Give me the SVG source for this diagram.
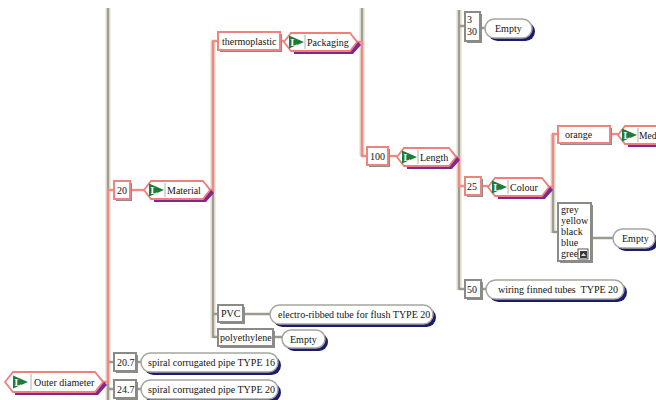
<svg xmlns="http://www.w3.org/2000/svg" xmlns:xlink="http://www.w3.org/1999/xlink" width="656" height="400" viewBox="0 0 656 400">
<defs>
<style>
text{font-family:"Liberation Serif","DejaVu Serif",serif;font-size:10px;fill:#141414}
.bar{stroke:#dcd9ca;stroke-width:5;fill:none}
.barc{stroke:#8f8d85;stroke-width:1.6;fill:none}
.red{stroke:#f08a84;stroke-width:2.4;fill:none}
.gl{stroke:#9c9a90;stroke-width:2.6;fill:none}
.hex{fill:#fff;stroke:#ef7f7c;stroke-width:1.8}
.hexs{fill:#7e2a8c}
.rbox{fill:#fff;stroke:#ee8480;stroke-width:2}
.gbox{fill:#fff;stroke:#8a8a86;stroke-width:2}
.sh{fill:#8d8d88}
.pill{fill:#fff;stroke:#a6a6a0;stroke-width:1.5}
.pills{fill:#1c1c6e}
.sep{stroke:#b0b0b0;stroke-width:1}
.ic{fill:#1c7a3a}
.icl{fill:#ffffff;font-size:10px;font-weight:bold}
</style>
<g id="icon"><polygon class="ic" points="0,0 15,6.5 0,13"/><text class="icl" x="1.5" y="10.5">L</text></g>
</defs>
<rect width="656" height="400" fill="#fff"/>
<g id="connectors">
<path class="bar" d="M108,8V400M213,41V338M362,8V156M459,10V290M553,134V233"/>
<path class="barc" d="M108,8V400M213,41V338M362,8V156M459,10V290M553,134V233"/>
<path class="gl" d="M108,362H114M108,389H114M213,314H218M213,337H218M459,26H465M459,289H465M553,232H558"/>
<path class="gl" d="M136,362H141M136,389H141M243,314H270M272,337H282M480,28H485M591,238H613M481,289H486"/>
<path class="red" d="M103,382H108V190H114"/>
<path class="red" d="M130,190H144"/>
<path class="red" d="M210,190H213V41H218"/>
<path class="red" d="M280,41H284"/>
<path class="red" d="M357,42H362V156H367"/>
<path class="red" d="M388,156H397"/>
<path class="red" d="M456,157H459V186H465"/>
<path class="red" d="M481,186H488"/>
<path class="red" d="M549,187H553V134H558"/>
<path class="red" d="M610,134H618"/>
</g>
<g id="outer-diameter">
<polygon class="hexs" points="15,375 98,375 107,385 98,395 15,395"/>
<polygon class="hex" points="5,382 13,372 95,372 103,382 95,392 13,392"/>
<use xlink:href="#icon" x="13" y="375.5"/><line class="sep" x1="31" y1="374" x2="31" y2="390"/>
<text x="34" y="386">Outer diameter</text>
</g>
<g id="n20-7"><rect class="sh" x="116" y="355" width="22" height="18"/><rect class="gbox" x="114" y="353" width="22" height="18"/><text x="117" y="366">20.7</text></g>
<g id="spiral16"><rect class="pills" x="144" y="356" width="137" height="19" rx="9.5"/><rect class="pill" x="141" y="353" width="137" height="19" rx="9.5"/><text x="148" y="366">spiral corrugated pipe TYPE 16</text></g>
<g id="n24-7"><rect class="sh" x="116" y="382" width="22" height="18"/><rect class="gbox" x="114" y="380" width="22" height="18"/><text x="117" y="393">24.7</text></g>
<g id="spiral20"><rect class="pills" x="144" y="383" width="137" height="19" rx="9.5"/><rect class="pill" x="141" y="380" width="137" height="19" rx="9.5"/><text x="148" y="393">spiral corrugated pipe TYPE 20</text></g>
<g id="n20"><rect class="sh" x="116" y="183" width="16" height="18"/><rect class="rbox" x="114" y="181" width="16" height="18"/><text x="117" y="194">20</text></g>
<g id="material">
<polygon class="hexs" points="154,184 206,184 214,193 206,202 154,202"/>
<polygon class="hex" points="144,190 151,181 203,181 210,190 203,199 151,199"/>
<use xlink:href="#icon" x="149" y="183.5"/><line class="sep" x1="165" y1="183" x2="165" y2="197"/>
<text x="167" y="194">Material</text>
</g>
<g id="thermoplastic"><rect class="sh" x="220" y="34" width="62" height="18"/><rect class="rbox" x="218" y="32" width="62" height="18"/><text x="222" y="45">thermoplastic</text></g>
<g id="packaging">
<polygon class="hexs" points="294,36 353,36 361,45 353,54 294,54"/>
<polygon class="hex" points="284,42 291,33 350,33 357,42 350,51 291,51"/>
<use xlink:href="#icon" x="289" y="35.5"/><line class="sep" x1="305" y1="35" x2="305" y2="49"/>
<text x="307" y="46">Packaging</text>
</g>
<g id="pvc"><rect class="sh" x="220" y="307" width="25" height="17"/><rect class="gbox" x="218" y="305" width="25" height="17"/><text x="221" y="317">PVC</text></g>
<g id="electro"><rect class="pills" x="273" y="308" width="163" height="19" rx="9.5"/><rect class="pill" x="270" y="305" width="163" height="19" rx="9.5"/><text x="278" y="318">electro-ribbed tube for flush TYPE 20</text></g>
<g id="polyethylene"><rect class="sh" x="220" y="331" width="55" height="17"/><rect class="gbox" x="218" y="329" width="55" height="17"/><text x="220" y="341">polyethylene</text></g>
<g id="empty1"><rect class="pills" x="285" y="333" width="43" height="18" rx="9"/><rect class="pill" x="282" y="330" width="43" height="18" rx="9"/><text x="290" y="343">Empty</text></g>
<g id="n100"><rect class="sh" x="369" y="149" width="21" height="18"/><rect class="rbox" x="367" y="147" width="21" height="18"/><text x="370" y="160">100</text></g>
<g id="length">
<polygon class="hexs" points="407,151 452,151 460,160 452,169 407,169"/>
<polygon class="hex" points="397,157 404,148 449,148 456,157 449,166 404,166"/>
<use xlink:href="#icon" x="402" y="150.5"/><line class="sep" x1="418" y1="150" x2="418" y2="164"/>
<text x="420" y="161">Length</text>
</g>
<g id="n3-30"><rect class="sh" x="467" y="14" width="15" height="29"/><rect class="gbox" x="465" y="12" width="15" height="29"/><text x="467" y="23">3</text><text x="467" y="35">30</text></g>
<g id="empty2"><rect class="pills" x="488" y="22" width="47" height="19" rx="9.5"/><rect class="pill" x="485" y="19" width="47" height="19" rx="9.5"/><text x="495" y="32">Empty</text></g>
<g id="n25"><rect class="sh" x="467" y="179" width="16" height="18"/><rect class="rbox" x="465" y="177" width="16" height="18"/><text x="467" y="190">25</text></g>
<g id="colour">
<polygon class="hexs" points="498,181 545,181 553,190 545,199 498,199"/>
<polygon class="hex" points="488,187 495,178 542,178 549,187 542,196 495,196"/>
<use xlink:href="#icon" x="492" y="180.5"/><line class="sep" x1="508" y1="180" x2="508" y2="194"/>
<text x="510" y="191">Colour</text>
</g>
<g id="orange"><rect class="sh" x="560" y="128" width="52" height="17"/><rect class="rbox" x="558" y="126" width="52" height="17"/><text x="565" y="138">orange</text></g>
<g id="med">
<polygon class="hexs" points="628,129 660,129 660,147 628,147"/>
<polygon class="hex" points="618,135 625,126 662,126 662,144 625,144"/>
<use xlink:href="#icon" x="622" y="128.5"/><line class="sep" x1="638" y1="128" x2="638" y2="142"/>
<text x="639" y="139" style="font-size:9.5px">Med</text>
</g>
<g id="colour-list">
<rect class="sh" x="560" y="205" width="33" height="58"/><rect class="gbox" x="558" y="203" width="33" height="58"/>
<text x="561" y="213">grey</text><text x="561" y="224">yellow</text><text x="561" y="235">black</text><text x="561" y="246">blue</text><text x="561" y="257">gree</text>
<rect x="578" y="249" width="10" height="10" fill="#fff" stroke="#555" stroke-width="1"/><rect x="580" y="251" width="7" height="7" fill="#3a3a3a"/><polygon points="581,256 583.5,253 586,256" fill="#ddd"/>
</g>
<g id="empty3"><rect class="pills" x="616" y="232" width="42" height="19" rx="9.5"/><rect class="pill" x="613" y="229" width="42" height="19" rx="9.5"/><text x="622" y="242">Empty</text></g>
<g id="n50"><rect class="sh" x="467" y="282" width="16" height="18"/><rect class="gbox" x="465" y="280" width="16" height="18"/><text x="467" y="293">50</text></g>
<g id="wiring"><rect class="pills" x="489" y="283" width="138" height="19" rx="9.5"/><rect class="pill" x="486" y="280" width="138" height="19" rx="9.5"/><text x="498" y="293" xml:space="preserve">wiring finned tubes  TYPE 20</text></g>
</svg>
